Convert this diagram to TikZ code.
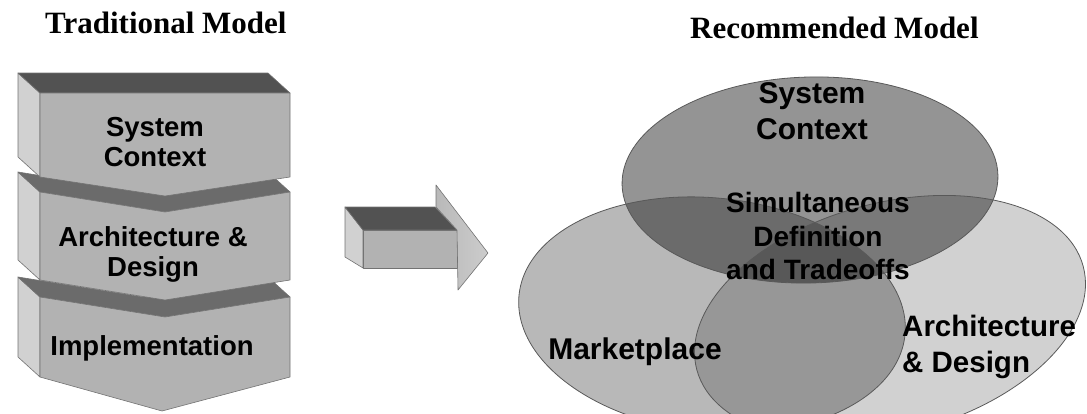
\documentclass[tikz,border=0pt]{standalone}
\usepackage{fontspec}
\setmainfont{Liberation Serif}
\newfontfamily\arialf{Liberation Sans}
\definecolor{frontc}{gray}{0.70}
\definecolor{sidec}{gray}{0.82}
\definecolor{topc}{gray}{0.32}
\definecolor{bandc}{gray}{0.42}
\definecolor{headc}{gray}{0.80}
\definecolor{edgec}{gray}{0.45}
\tikzset{
  ttl/.style={font=\bfseries\fontsize{31}{36}\selectfont, anchor=base west, inner sep=0pt},
  lbl/.style={font=\arialf\bfseries\fontsize{27.5}{30}\selectfont, align=center, inner sep=0pt},
  vlbl/.style={font=\arialf\bfseries\fontsize{30}{36.5}\selectfont, align=center, inner sep=0pt},
  midlbl/.style={font=\arialf\bfseries\fontsize{28}{33.5}\selectfont, align=center, inner sep=0pt},
  frontface/.style={fill=frontc, draw=edgec, line width=0.6pt, line join=round},
  sideface/.style={fill=sidec, draw=edgec, line width=0.6pt, line join=round},
  topface/.style={fill=topc, draw=edgec, line width=0.6pt, line join=round},
  bandface/.style={fill=bandc, draw=edgec, line width=0.6pt, line join=round},
  headface/.style={left color=gray!55, right color=headc, draw=edgec, line width=0.6pt, line join=round},
  venn/.style={fill=black, fill opacity=#1},
  vennedge/.style={draw=gray!70!black, line width=0.8pt},
}
\begin{document}
\begin{tikzpicture}[x=1pt,y=-1pt]
\useasboundingbox (0,0) rectangle (1087,413);

% titles
\node[ttl] (t1) at (45,33) {Traditional Model};
\node[ttl] (t2) at (690,38) {Recommended Model};

% ---- stacked chevron blocks (bottom to top) ----
% block 3
\fill[sideface] (40,297) -- (18,277) -- (18,357) -- (40,377) -- cycle;
\fill[bandface] (40,297) -- (165,317) -- (290,297) -- (268,277) -- (143,297) -- (18,277) -- cycle;
\fill[frontface] (40,297) -- (165,317) -- (290,297) -- (290,377) -- (162,411) -- (40,377) -- cycle;
% block 2
\fill[sideface] (40,192) -- (18,172) -- (18,260) -- (40,280) -- cycle;
\fill[bandface] (40,192) -- (165,212) -- (290,192) -- (268,172) -- (143,192) -- (18,172) -- cycle;
\fill[frontface] (40,192) -- (165,212) -- (290,192) -- (290,280) -- (165,300) -- (40,280) -- cycle;
% block 1
\fill[sideface] (40,93) -- (18,73) -- (18,157) -- (40,177) -- cycle;
\fill[topface] (40,93) -- (290,93) -- (268,73) -- (18,73) -- cycle;
\fill[frontface] (40,93) -- (290,93) -- (290,177) -- (165,196) -- (40,177) -- cycle;

\node[lbl] (b1) at (155,142) {System\\Context};
\node[lbl] (b2) at (153,254) {Architecture \&\\Design};
\node[lbl] (b3) at (152,348) {Implementation};

% ---- 3D arrow ----
\fill[sideface] (345,207) -- (363,230) -- (363,268) -- (345,257) -- cycle;
\fill[topface] (345,207) -- (435,207) -- (457,230) -- (363,230) -- cycle;
\fill[frontface] (363,230) -- (457,230) -- (457,268) -- (363,268) -- cycle;
\path[headface] (436,185) -- (488,253) -- (458,290) -- (457,230) -- (436,207) -- cycle;

% ---- Venn ellipses ----
\begin{scope}[shift={(712,315)}, rotate=-6]
  \fill[venn=0.28] (0,0) ellipse [x radius=194, y radius=117];
\end{scope}
\begin{scope}[shift={(890,318)}, rotate=15]
  \fill[venn=0.18] (0,0) ellipse [x radius=200, y radius=115];
\end{scope}
\begin{scope}[shift={(810,180)}, rotate=1.5]
  \fill[venn=0.42] (0,0) ellipse [x radius=188, y radius=103];
\end{scope}
\begin{scope}[shift={(712,315)}, rotate=-6]
  \draw[vennedge] (0,0) ellipse [x radius=194, y radius=117];
\end{scope}
\begin{scope}[shift={(890,318)}, rotate=15]
  \draw[vennedge] (0,0) ellipse [x radius=200, y radius=115];
\end{scope}
\begin{scope}[shift={(810,180)}, rotate=1.5]
  \draw[vennedge] (0,0) ellipse [x radius=188, y radius=103];
\end{scope}

\node[vlbl] (e1) at (812,111) {System\\Context};
\node[midlbl] (e2) at (818,236) {Simultaneous\\Definition\\and Tradeoffs};
\node[vlbl] (e3) at (635,352) {Marketplace};
\node[vlbl, align=left, anchor=west, font=\arialf\bfseries\fontsize{29.5}{36}\selectfont] (e4) at (902,347) {Architecture\\\& Design};
\end{tikzpicture}
\end{document}
